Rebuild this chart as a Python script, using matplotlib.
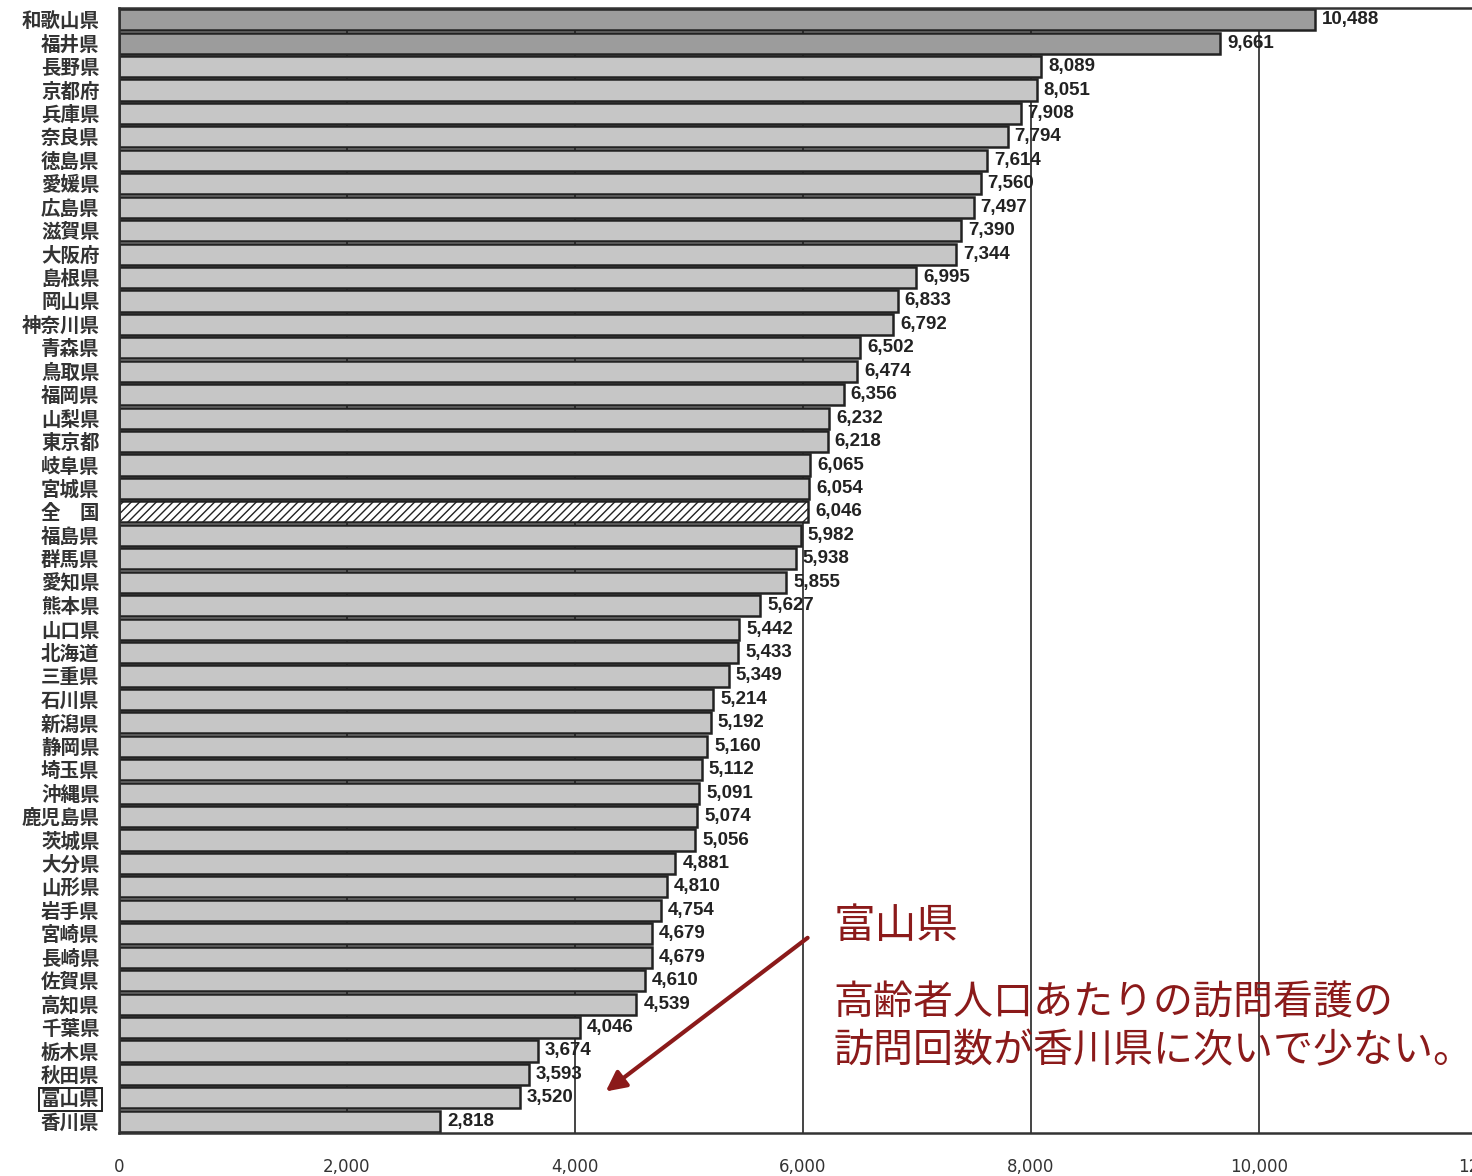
import matplotlib.pyplot as plt

plt.rcParams['font.family'] = ['Noto Sans CJK JP', 'DejaVu Sans']

prefectures = ['和歌山県', '福井県', '長野県', '京都府', '兵庫県', '奈良県', '徳島県', '愛媛県',
               '広島県', '滋賀県', '大阪府', '島根県', '岡山県', '神奈川県', '青森県', '鳥取県',
               '福岡県', '山梨県', '東京都', '岐阜県', '宮城県', '全　国', '福島県', '群馬県',
               '愛知県', '熊本県', '山口県', '北海道', '三重県', '石川県', '新潟県', '静岡県',
               '埼玉県', '沖縄県', '鹿児島県', '茨城県', '大分県', '山形県', '岩手県', '宮崎県',
               '長崎県', '佐賀県', '高知県', '千葉県', '栃木県', '秋田県', '富山県', '香川県']
visits = [10488, 9661, 8089, 8051, 7908, 7794, 7614, 7560,
          7497, 7390, 7344, 6995, 6833, 6792, 6502, 6474,
          6356, 6232, 6218, 6065, 6054, 6046, 5982, 5938,
          5855, 5627, 5442, 5433, 5349, 5214, 5192, 5160,
          5112, 5091, 5074, 5056, 4881, 4810, 4754, 4679,
          4679, 4610, 4539, 4046, 3674, 3593, 3520, 2818]
xticks = [0, 2000, 4000, 6000, 8000, 10000, 12000]
xtick_labels = ['0', '2,000', '4,000', '6,000', '8,000', '10,000', '12,000']

national = '全　国'
highlight = '富山県'
dark_red = '#8b1a1a'

fig = plt.figure(figsize=(14.72, 11.76), dpi=100)
ax = fig.add_axes([119 / 1472, 1 - 1133 / 1176, 1368 / 1472, 1125 / 1176])

ypos = list(range(len(prefectures)))
colors = []
for i, name in enumerate(prefectures):
    if name == national:
        colors.append('white')
    elif i < 2:
        colors.append('#9c9c9c')
    else:
        colors.append('#c6c6c6')

bars = ax.barh(ypos, visits, height=0.9, color=colors, edgecolor='#222222',
               linewidth=1.8, zorder=2)
for b, name in zip(bars, prefectures):
    if name == national:
        b.set_hatch('////')

for y, v in zip(ypos, visits):
    ax.text(v + 60, y, f'{v:,}', va='center', ha='left', fontsize=13.5,
            fontweight='bold', family='Liberation Sans', color='#222222', zorder=3)

ax.set_xlim(0, 12000)
ax.set_ylim(len(prefectures) - 0.5, -0.5)
ax.set_yticks(ypos)
ax.set_yticklabels(prefectures, fontsize=14, fontweight='bold', color='#333333')
ax.set_xticks(xticks)
ax.set_xticklabels(xtick_labels, fontsize=12, family='Liberation Sans Narrow', color='#333333')
ax.tick_params(axis='both', length=0)
ax.tick_params(axis='y', pad=14)
ax.tick_params(axis='x', pad=18)
for lbl in ax.get_yticklabels():
    if lbl.get_text() == highlight:
        lbl.set_bbox(dict(facecolor='none', edgecolor='#222222', pad=1.5, linewidth=1.4))

ax.xaxis.grid(True, color='#444444', linewidth=1.4, zorder=0)
ax.set_axisbelow(True)
ax.spines['right'].set_visible(False)
for s in ['top', 'bottom', 'left']:
    ax.spines[s].set_linewidth(1.8)
    ax.spines[s].set_color('#333333')

# annotation
ax.annotate('', xy=(4250, 45.8), xytext=(6060, 39.1),
            arrowprops=dict(arrowstyle='-|>,head_width=0.6,head_length=1.2',
                            color=dark_red, linewidth=3), zorder=4)
ax.text(6270, 38.7, '富山県', fontsize=30, color=dark_red, va='center', ha='left', zorder=4)
ax.text(6270, 43.0, '高齢者人口あたりの訪問看護の\n訪問回数が香川県に次いで少ない。',
        fontsize=28.8, color=dark_red, va='center', ha='left', linespacing=1.25, zorder=4)

fig.savefig('out.png', dpi=100)
